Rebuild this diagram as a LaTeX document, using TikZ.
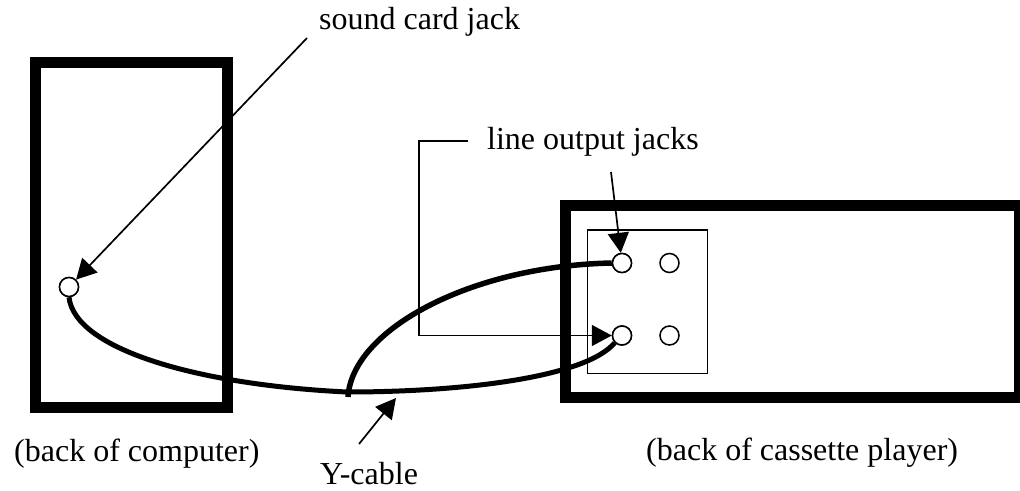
\documentclass[tikz,border=0pt]{standalone}
\usepackage{fontspec}
\setmainfont{Liberation Serif}
\usetikzlibrary{arrows.meta}
\tikzset{
  housing/.style={draw=black,line width=11pt,fill=none,line join=miter},
  panel/.style={draw=black,line width=1.5pt},
  jack/.style={circle,draw=black,fill=white,line width=1.5pt,minimum size=19pt,inner sep=0pt},
  cable/.style={draw=black,line width=5pt,line cap=butt},
  pointer/.style={draw=black,line width=1.7pt,-{Triangle[length=20pt,width=21pt]},shorten >=0pt},
  label/.style={inner sep=0pt,font=\fontsize{32}{36}\selectfont}
}
\begin{document}
\begin{tikzpicture}[x=1pt,y=-1pt]
\path[use as bounding box,fill=white] (0,0) rectangle (1020,490);
\clip (0,0) rectangle (1020,490);
\draw[housing] (35.5,62) rectangle (227.5,407.5);
\draw[housing] (565,205.5) rectangle (1019.5,397.5);
\draw[panel] (587.5,230) rectangle (707.5,373.5);
% cables
\coordinate (joint) at (348,397);
\node[jack] (pc) at (69,287) {};
\node[jack] (j1) at (622,263) {};
\node[jack] (j2) at (669.5,263) {};
\node[jack] (j3) at (622,335.5) {};
\node[jack] (j4) at (669.5,335.5) {};
\draw[cable] (pc.south) .. controls (75,350) and (200,385) .. (347,392)
   .. controls (460,392) and (585,378) .. (j3.south west);
\draw[cable,line width=5.5pt] (joint) .. controls (352,330) and (470,266) .. (j1.west);
\node[jack] at (j1) {};
\node[jack] at (j3) {};
\node[jack] at (pc) {};
% labels
\node[label,anchor=base west] (sc) at (319,29) {sound card jack};
\node[label,anchor=base west] (lo) at (487,149) {line output jacks};
\node[label,anchor=base west] (bc) at (14,461) {(back of computer)};
\node[label,anchor=base west] (bp) at (646,460) {(back of cassette player)};
\node[label,anchor=base west] (yc) at (320,484) {Y-cable};
% pointers
\coordinate (sctail) at (307,38);
\coordinate (lotail) at (611,172);
\coordinate (elbowA) at (468,141);
\coordinate (elbowB) at (419,141);
\coordinate (elbowC) at (419,335.5);
\coordinate (ytail) at (359,444);
\coordinate (yhead) at (396,398);
\draw[pointer] (sctail) -- (pc);
\draw[pointer] (lotail) -- (j1);
\draw[pointer] (elbowA) -- (elbowB) -- (elbowC) -- (j3);
\draw[pointer] (ytail) -- (yhead);
\end{tikzpicture}
\end{document}
